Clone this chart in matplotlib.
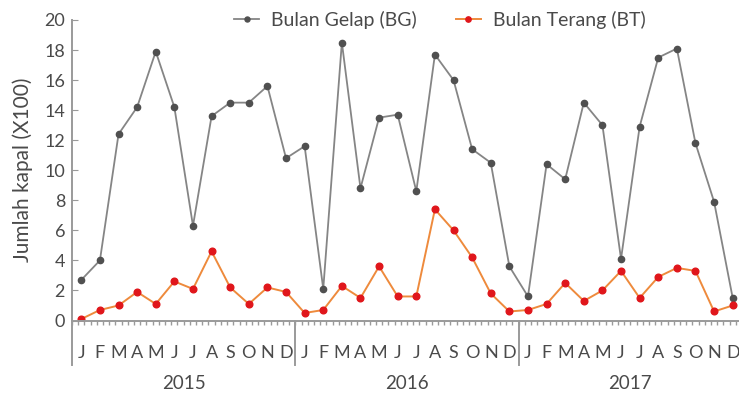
import numpy as np
import matplotlib
matplotlib.use("Agg")
import matplotlib.pyplot as plt

plt.rcParams["font.family"] = ["Lato", "DejaVu Sans"]

months = ["J", "F", "M", "A", "M", "J", "J", "A", "S", "O", "N", "D"]
years = ["2015", "2016", "2017"]

# jumlah kapal (x100) per bulan, Jan 2015 - Des 2017
bulan_gelap = [
    2.7, 4.0, 12.4, 14.2, 17.9, 14.2, 6.3, 13.6, 14.5, 14.5, 15.6, 10.8,
    11.6, 2.1, 18.5, 8.8, 13.5, 13.7, 8.6, 17.7, 16.0, 11.4, 10.5, 3.6,
    1.6, 10.4, 9.4, 14.5, 13.0, 4.1, 12.9, 17.5, 18.1, 11.8, 7.9, 1.5,
]
bulan_terang = [
    0.1, 0.7, 1.0, 1.9, 1.1, 2.6, 2.1, 4.6, 2.2, 1.1, 2.2, 1.9,
    0.5, 0.7, 2.3, 1.5, 3.6, 1.6, 1.6, 7.4, 6.0, 4.2, 1.8, 0.6,
    0.7, 1.1, 2.5, 1.3, 2.0, 3.3, 1.5, 2.9, 3.5, 3.3, 0.6, 1.0,
]

GRID = "#9a9a9a"
TEXT = "#4a4a4a"

x = np.arange(len(bulan_gelap))

fig = plt.figure(figsize=(7.39, 4.01), dpi=100)
ax = fig.add_axes([72 / 739, 1 - 320.5 / 401, 670 / 739, 300.5 / 401])

ax.plot(x, bulan_gelap, color="#858585", lw=1.3, marker="o", ms=4.5,
        mfc="#505050", mec="#505050", label="Bulan Gelap (BG)")
ax.plot(x, bulan_terang, color="#ee8a3c", lw=1.4, marker="o", ms=4.8,
        mfc="#e0161b", mec="#e0161b", label="Bulan Terang (BT)")

ax.set_xlim(-0.5, len(x) - 0.5)
ax.set_ylim(0, 20)

for side in ("top", "right"):
    ax.spines[side].set_visible(False)
for side in ("left", "bottom"):
    ax.spines[side].set_color(GRID)
    ax.spines[side].set_linewidth(1.4)

ax.set_yticks(np.arange(0, 21, 2))
ax.tick_params(axis="y", direction="in", length=4, color=GRID, labelsize=13,
               labelcolor=TEXT, pad=5)

ax.set_xticks(x)
ax.set_xticklabels(months * len(years))
ax.tick_params(axis="x", which="major", length=0, pad=18, labelsize=13,
               labelcolor=TEXT)
ax.set_xticks(np.arange(-0.5, len(x) - 0.4, 1 / 3), minor=True)
ax.tick_params(axis="x", which="minor", direction="out", length=3,
               width=1.0, color=GRID)

# sumbu kiri dan pemisah tahun diperpanjang ke bawah
trans = ax.get_xaxis_transform()
ax.plot([-0.5, -0.5], [0, -0.148], transform=trans, color=GRID, lw=1.4,
        clip_on=False)
for i, yr in enumerate(years):
    if i > 0:
        sep = 12 * i - 0.5
        ax.plot([sep, sep], [0, -0.148], transform=trans, color=GRID, lw=1.4,
                clip_on=False)
    ax.text(12 * i + 5.5, -0.208, yr, transform=trans, ha="center",
            va="center", fontsize=13.5, color=TEXT)

ax.set_ylabel("Jumlah kapal (X100)", fontsize=15, color=TEXT)
ax.yaxis.set_label_coords(-0.058, 0.5)

ax.legend(loc="center", bbox_to_anchor=(0.549, 1.0), ncol=2, frameon=False,
          fontsize=14, handlelength=1.3, handletextpad=0.6, columnspacing=2.0,
          labelcolor=TEXT, markerscale=0.8)

fig.savefig("out.png", dpi=100)
